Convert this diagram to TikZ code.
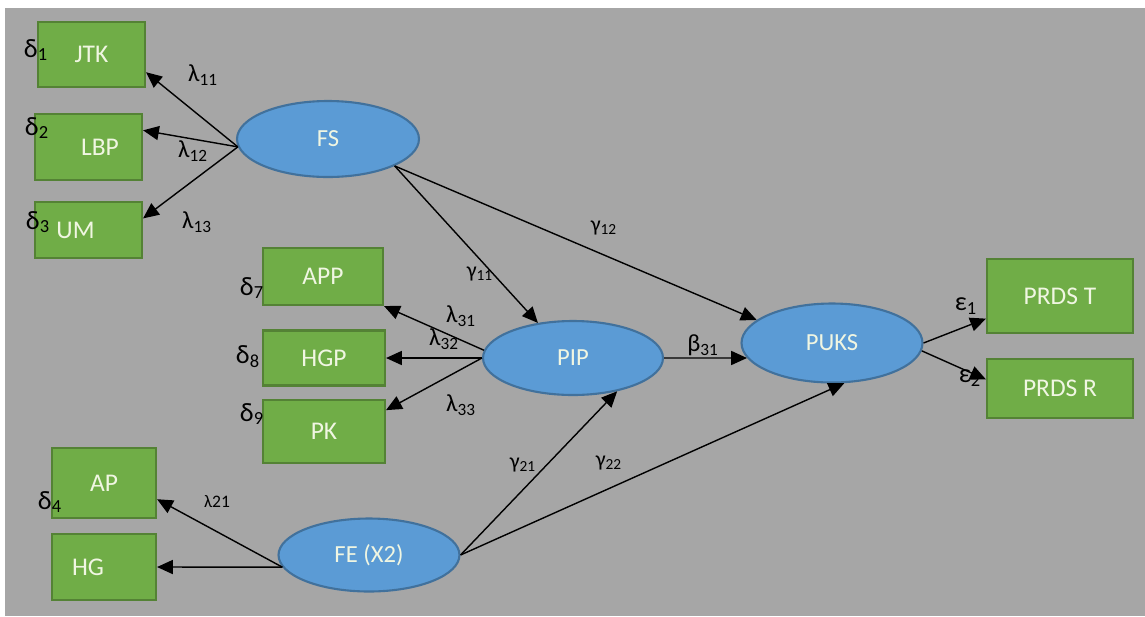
\documentclass[tikz,border=0pt]{standalone}
\usepackage{fontspec}
\setmainfont{Carlito}
\usepackage{tikz}
\usetikzlibrary{shapes}
\usetikzlibrary{arrows.meta}
\definecolor{bggray}{RGB}{166,166,166}
\definecolor{obsgreen}{RGB}{112,173,71}
\definecolor{obsedge}{RGB}{84,130,53}
\definecolor{lvblue}{RGB}{91,155,213}
\definecolor{lvedge}{RGB}{65,113,156}
\definecolor{txtpale}{RGB}{240,246,226}
\tikzstyle{obs}=[rectangle,draw=obsedge,fill=obsgreen,line width=1.2pt,text=txtpale,font=\fontsize{14.5}{16}\selectfont,inner sep=0mm]
\tikzstyle{LV}=[ellipse,draw=lvedge,fill=lvblue,line width=1.2pt,text=txtpale,font=\fontsize{14}{16}\selectfont,inner sep=0mm]
\tikzstyle{arrow}=[-{Triangle[length=9pt,width=8pt]},line width=0.8pt]
\tikzstyle{err}=[font=\fontsize{15}{17}\selectfont,inner sep=0mm]
\tikzstyle{coef}=[font=\fontsize{14}{16}\selectfont,inner sep=0mm]
\tikzstyle{gcoef}=[font=\fontsize{12.5}{14}\selectfont,inner sep=0mm]

\begin{document}
\begin{tikzpicture}[x=0.02cm,y=-0.02cm]
      \useasboundingbox (0,0) rectangle (1145,616);
      \fill[bggray] (5,8) rectangle (1145,616);
      % indicators
      \node[obs,minimum width=2.14cm,minimum height=1.3cm] at (91.5,54.5) (jtk) {JTK};
      \node[obs,minimum width=2.14cm,minimum height=1.32cm] at (88.5,147) (lbp) {\hspace*{0.46cm}LBP};
      \node[obs,minimum width=2.14cm,minimum height=1.12cm] at (88.5,230) (um) {UM\hspace*{0.52cm}};
      \node[obs,minimum width=2.4cm,minimum height=1.14cm] at (323,276.5) (app) {APP};
      \node[obs,minimum width=2.44cm,minimum height=1.1cm] at (324,358) (hgp) {HGP};
      \node[obs,minimum width=2.44cm,minimum height=1.26cm] at (324,431.5) (pk) {PK};
      \node[obs,minimum width=2.08cm,minimum height=1.4cm] at (104,483) (ap) {AP};
      \node[obs,minimum width=2.08cm,minimum height=1.32cm] at (104,567) (hg) {HG\hspace*{0.64cm}};
      \node[obs,minimum width=2.92cm,minimum height=1.48cm] at (1060,296) (prdst) {PRDS T};
      \node[obs,minimum width=2.92cm,minimum height=1.18cm] at (1060,388.5) (prdsr) {PRDS R};
      % latent variables
      \node[LV,minimum width=3.64cm,minimum height=1.52cm] at (328,139) (fs) {FS};
      \node[LV,minimum width=3.6cm,minimum height=1.48cm] at (573,358) (pip) {PIP};
      \node[LV,minimum width=3.62cm,minimum height=1.58cm] at (832,343) (puks) {PUKS};
      \node[LV,minimum width=3.62cm,minimum height=1.46cm] at (369,555) (fe) {FE (X2)};
      % paths
      \draw[arrow] (fs.185)--(jtk.-18);
      \draw[arrow] (fs.185)--(lbp.17);
      \draw[arrow] (fs.185)--(um.12);
      \draw[arrow] (fs.-22)--(pip.135);
      \draw[arrow] (fs.-22)--(puks.163);
      \draw[arrow] (pip.175)--(app.south east);
      \draw[arrow] (pip.west)--(hgp.east);
      \draw[arrow] (pip.west)--(pk.19);
      \draw[arrow] (pip.east)--(puks.190);
      \draw[arrow] (fe.east)--(pip.-37);
      \draw[arrow] (fe.east)--(puks.-73);
      \draw[arrow] (fe.188)--(ap.-17);
      \draw[arrow] (fe.188)--(hg.east);
      \draw[arrow] (puks.east)--(prdst.197);
      \draw[arrow] (puks.-5)--(prdsr.173);
      % errors and loadings
      \node[err] at (36,50) (d1) {δ\textsubscript{1}};
      \node[err] at (37,128) (d2) {δ\textsubscript{2}};
      \node[err] at (38,222) (d3) {δ\textsubscript{3}};
      \node[err] at (252,288) (d7) {δ\textsubscript{7}};
      \node[err] at (248,357) (d8) {δ\textsubscript{8}};
      \node[err] at (252,414) (d9) {δ\textsubscript{9}};
      \node[err] at (50,502) (d4) {δ\textsubscript{4}};
      \node[err] at (966,306) (e1) {ε\textsubscript{1}};
      \node[err] at (970,378) (e2) {ε\textsubscript{2}};
      \node[coef] at (203,75) (l11) {λ\textsubscript{11}};
      \node[coef] at (193,151) (l12) {λ\textsubscript{12}};
      \node[coef] at (197,222) (l13) {λ\textsubscript{13}};
      \node[coef] at (461,316) (l31) {λ\textsubscript{31}};
      \node[coef] at (444,339) (l32) {λ\textsubscript{32}};
      \node[coef] at (461,405) (l33) {λ\textsubscript{33}};
      \node[gcoef,font=\fontsize{10}{12}\selectfont] at (217,502) (l21) {λ21};
      \node[coef] at (703,345) (b31) {β\textsubscript{31}};
      \node[gcoef] at (480,274) (g11) {γ\textsubscript{11}};
      \node[gcoef] at (604,228) (g12) {γ\textsubscript{12}};
      \node[gcoef] at (523,465) (g21) {γ\textsubscript{21}};
      \node[gcoef] at (609,463) (g22) {γ\textsubscript{22}};
\end{tikzpicture}
\end{document}
